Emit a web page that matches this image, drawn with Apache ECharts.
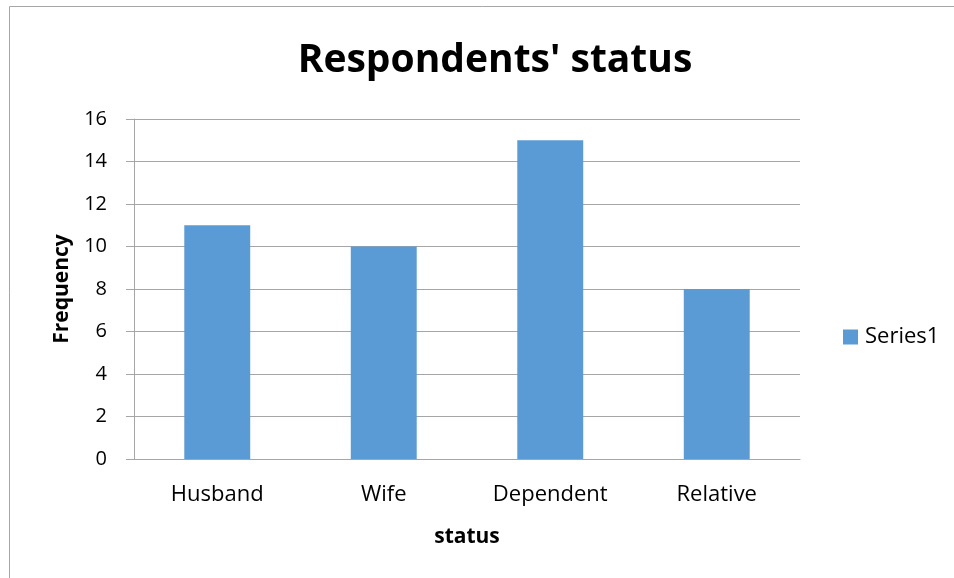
<!DOCTYPE html>
<html><head><meta charset="utf-8">
<script src="https://cdn.jsdelivr.net/npm/echarts@6/dist/echarts.min.js"></script>
<style>html,body{margin:0;padding:0;background:#fff}#c{width:954px;height:578px}</style>
</head><body><div id="c"></div>
<script>
const categories = ['Husband', 'Wife', 'Dependent', 'Relative'];
const series1 = [11, 10, 15, 8];
const yTicks = [0, 2, 4, 6, 8, 10, 12, 14, 16];

const FONT = 'Open Sans';
const chart = echarts.init(document.getElementById('c'));
chart.setOption({
  animation: false,
  backgroundColor: '#fff',
  graphic: [{
    type: 'rect', shape: { x: 9.5, y: 6.5, width: 1000, height: 1000 },
    style: { fill: 'none', stroke: '#a6a6a6', lineWidth: 1 }, silent: true
  }],
  title: {
    text: "Respondents' status", left: 490, top: 36, textAlign: 'center',
    textStyle: { fontFamily: FONT, fontWeight: 'bold', fontSize: 39, color: '#000' }
  },
  legend: {
    data: ['Series1'], orient: 'vertical', left: 843, top: 326, padding: 0,
    itemWidth: 15, itemHeight: 15, icon: 'rect', itemGap: 6,
    textStyle: { fontFamily: FONT, fontSize: 22, color: '#000', padding: [0, 0, 0, 2] }
  },
  grid: { left: 134, right: 154, top: 119, bottom: 119 },
  xAxis: {
    type: 'category', data: categories,
    name: 'status', nameLocation: 'middle', nameGap: 68,
    nameTextStyle: { fontFamily: FONT, fontWeight: 'bold', fontSize: 21, color: '#000' },
    axisLine: { lineStyle: { color: '#a6a6a6' } },
    axisTick: { show: false },
    axisLabel: { fontFamily: FONT, fontSize: 22, color: '#000', margin: 25 }
  },
  yAxis: {
    type: 'value', min: yTicks[0], max: yTicks[yTicks.length - 1], interval: 2,
    name: 'Frequency', nameLocation: 'middle', nameGap: 61, nameRotate: 90,
    nameTextStyle: { fontFamily: FONT, fontWeight: 'bold', fontSize: 21, color: '#000' },
    axisLine: { show: true, lineStyle: { color: '#a6a6a6' } },
    axisTick: { show: true, inside: false, length: 8, lineStyle: { color: '#a6a6a6' } },
    splitLine: { lineStyle: { color: '#a6a6a6' } },
    axisLabel: { fontFamily: FONT, fontSize: 20, color: '#000', margin: 27 }
  },
  series: [{
    name: 'Series1', type: 'bar', data: series1, barWidth: '39.6%',
    itemStyle: { color: '#5b9bd5' }
  }]
});
</script></body></html>
